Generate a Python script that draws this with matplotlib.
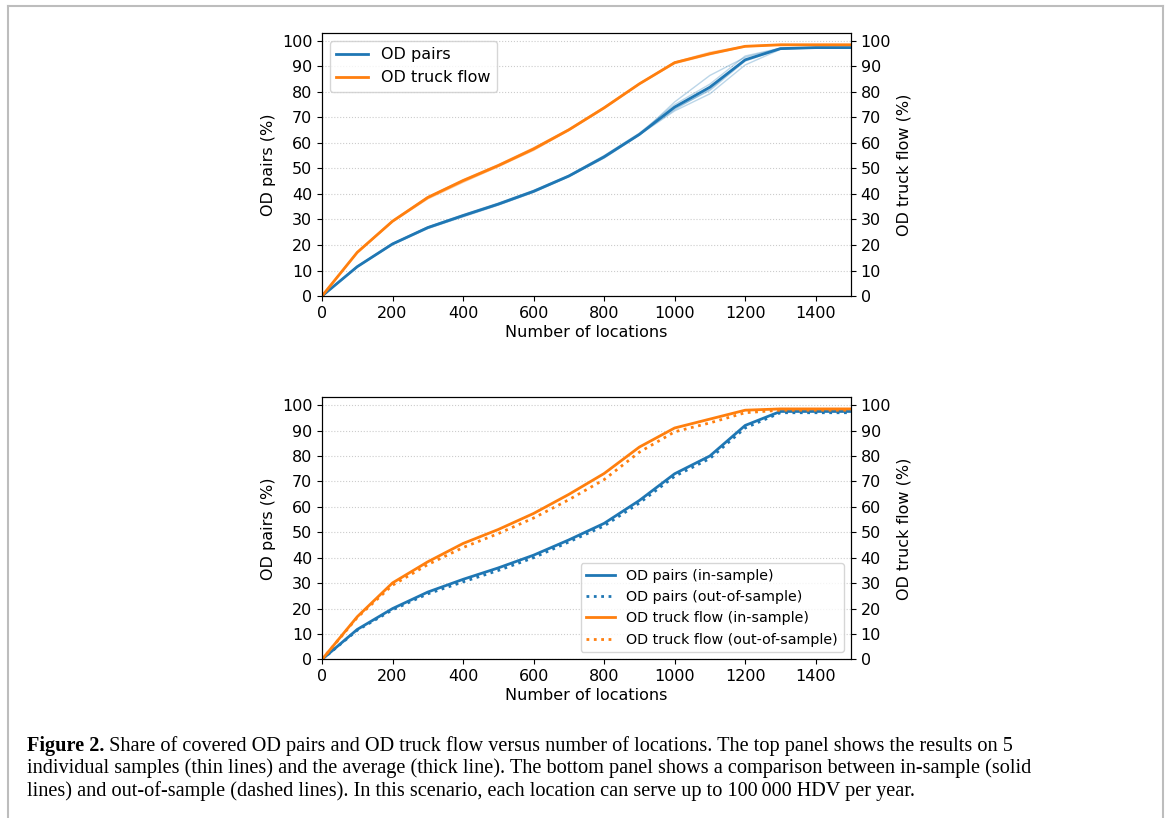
import matplotlib
matplotlib.use('Agg')
import matplotlib.pyplot as plt
from matplotlib.lines import Line2D

# number of locations (every 100)
locations = [0, 100, 200, 300, 400, 500, 600, 700, 800, 900, 1000, 1100, 1200, 1300, 1400, 1500]

# top panel: averages
pairs_avg = [0, 11.5, 20.4, 26.8, 31.5, 36.0, 41.0, 47.0, 54.5, 63.3, 74.0, 81.8, 92.5, 96.9, 97.3, 97.3]
flow_avg = [0, 17.1, 29.3, 38.6, 45.2, 51.1, 57.6, 65.1, 73.7, 83.1, 91.4, 94.9, 97.8, 98.4, 98.4, 98.4]

# top panel: 5 individual samples
pairs_samples = [
    [0, 11.4, 20.2, 26.5, 31.0, 35.6, 40.6, 46.8, 54.0, 63.0, 76.0, 86.4, 93.5, 97.0, 97.4, 97.4],
    [0, 11.7, 20.6, 27.1, 31.9, 36.4, 41.4, 47.3, 55.0, 63.8, 75.0, 83.0, 94.0, 97.1, 97.3, 97.3],
    [0, 11.3, 20.1, 26.4, 31.2, 35.7, 40.7, 46.7, 54.2, 63.1, 72.5, 79.2, 90.5, 96.6, 97.2, 97.2],
    [0, 11.6, 20.5, 27.0, 31.7, 36.2, 41.2, 47.1, 54.8, 63.5, 73.5, 80.5, 92.0, 96.8, 97.3, 97.3],
    [0, 11.5, 20.4, 26.9, 31.6, 36.1, 41.1, 47.0, 54.6, 63.2, 73.0, 81.0, 92.5, 97.0, 97.3, 97.3],
]
flow_samples = [
    [0, 17.0, 29.1, 38.2, 44.7, 50.6, 57.2, 64.8, 73.4, 82.9, 91.2, 94.7, 97.7, 98.4, 98.4, 98.4],
    [0, 17.3, 29.5, 38.9, 45.6, 51.5, 58.1, 65.4, 74.0, 83.3, 91.6, 95.5, 97.9, 98.5, 98.5, 98.5],
    [0, 16.9, 29.0, 38.0, 44.5, 50.8, 57.0, 64.9, 73.5, 83.0, 91.0, 94.5, 97.6, 98.3, 98.3, 98.3],
    [0, 17.2, 29.4, 38.8, 45.4, 51.3, 57.9, 65.3, 73.9, 83.2, 91.6, 95.1, 97.9, 98.4, 98.4, 98.4],
    [0, 17.1, 29.3, 38.7, 45.3, 51.2, 57.7, 65.1, 73.7, 83.1, 91.5, 94.9, 97.8, 98.4, 98.4, 98.4],
]

# bottom panel: in-sample vs out-of-sample
pairs_in = [0, 11.8, 20.0, 26.5, 31.5, 36.0, 41.0, 47.0, 53.5, 62.5, 73.0, 80.0, 92.0, 97.5, 97.5, 97.5]
pairs_out = [0, 11.5, 19.5, 25.8, 30.5, 35.0, 40.0, 46.2, 52.5, 61.5, 72.0, 79.0, 91.0, 97.0, 97.0, 97.0]
flow_in = [0, 16.8, 30.1, 38.4, 45.6, 51.1, 57.4, 64.9, 73.1, 83.5, 91.0, 94.5, 98.0, 98.5, 98.5, 98.5]
flow_out = [0, 16.5, 29.2, 37.3, 44.0, 49.5, 55.6, 62.8, 70.7, 81.5, 89.5, 93.0, 97.0, 98.0, 98.0, 98.0]

blue = '#1f77b4'
orange = '#ff7f0e'

plt.rcParams['font.family'] = ['DejaVu Sans']
plt.rcParams['font.size'] = 11.5
fig = plt.figure(figsize=(11.7, 8.18), dpi=100)


def setup(ax):
    ax.set_xlim(0, 1500)
    ax.set_ylim(0, 103)
    ax.set_xticks(range(0, 1401, 200))
    ax.set_yticks(range(0, 101, 10))
    ax.grid(axis='y', linestyle=':', color='#cccccc', linewidth=0.8)
    ax.set_axisbelow(True)
    ax.set_ylabel('OD pairs (%)')
    ax.set_xlabel('Number of locations', labelpad=3)
    ax2 = ax.twinx()
    ax2.set_ylim(0, 103)
    ax2.set_yticks(range(0, 101, 10))
    ax2.set_ylabel('OD truck flow (%)')
    return ax2


# top panel
ax1 = fig.add_axes([0.2752, 0.6381, 0.4521, 0.3215])
setup(ax1)
for s in pairs_samples:
    ax1.plot(locations, s, color=blue, lw=1, alpha=0.3)
for s in flow_samples:
    ax1.plot(locations, s, color=orange, lw=1, alpha=0.3)
ax1.plot(locations, pairs_avg, color=blue, lw=2, label='OD pairs')
ax1.plot(locations, flow_avg, color=orange, lw=2, label='OD truck flow')
ax1.legend(loc='upper left')

# bottom panel
ax3 = fig.add_axes([0.2752, 0.1938, 0.4521, 0.3203])
setup(ax3)
ax3.plot(locations, pairs_in, color=blue, lw=2, label='OD pairs (in-sample)')
ax3.plot(locations, pairs_out, color=blue, lw=2, ls=':', label='OD pairs (out-of-sample)')
ax3.plot(locations, flow_in, color=orange, lw=2, label='OD truck flow (in-sample)')
ax3.plot(locations, flow_out, color=orange, lw=2, ls=':', label='OD truck flow (out-of-sample)')
ax3.legend(loc='lower right', fontsize=10.3)

# page frame
frame = '#bdbdbd'
fig.add_artist(Line2D([8 / 1170, 8 / 1170], [0, 1 - 6 / 818], color=frame, lw=1.5, transform=fig.transFigure))
fig.add_artist(Line2D([8 / 1170, 1163 / 1170], [1 - 6 / 818, 1 - 6 / 818], color=frame, lw=1.5, transform=fig.transFigure))
fig.add_artist(Line2D([1163 / 1170, 1163 / 1170], [0, 1 - 6 / 818], color=frame, lw=1.5, transform=fig.transFigure))

# caption
serif = ['Liberation Serif', 'DejaVu Serif']
cap_size = 14.6
x0 = 27 / 1170
t = fig.text(x0, 1 - 751 / 818, 'Figure 2.', fontsize=cap_size, family=serif, weight='bold', va='baseline')
fig.canvas.draw()
bb = t.get_window_extent(fig.canvas.get_renderer())
fig.text(bb.x1 / 1170, 1 - 751 / 818,
         ' Share of covered OD pairs and OD truck flow versus number of locations. The top panel shows the results on 5',
         fontsize=cap_size, family=serif, va='baseline')
fig.text(x0, 1 - 773.5 / 818,
         'individual samples (thin lines) and the average (thick line). The bottom panel shows a comparison between in-sample (solid',
         fontsize=cap_size, family=serif, va='baseline')
fig.text(x0, 1 - 796 / 818,
         'lines) and out-of-sample (dashed lines). In this scenario, each location can serve up to 100\u2009000 HDV per year.',
         fontsize=cap_size, family=serif, va='baseline')

fig.savefig('out.png', dpi=100)
